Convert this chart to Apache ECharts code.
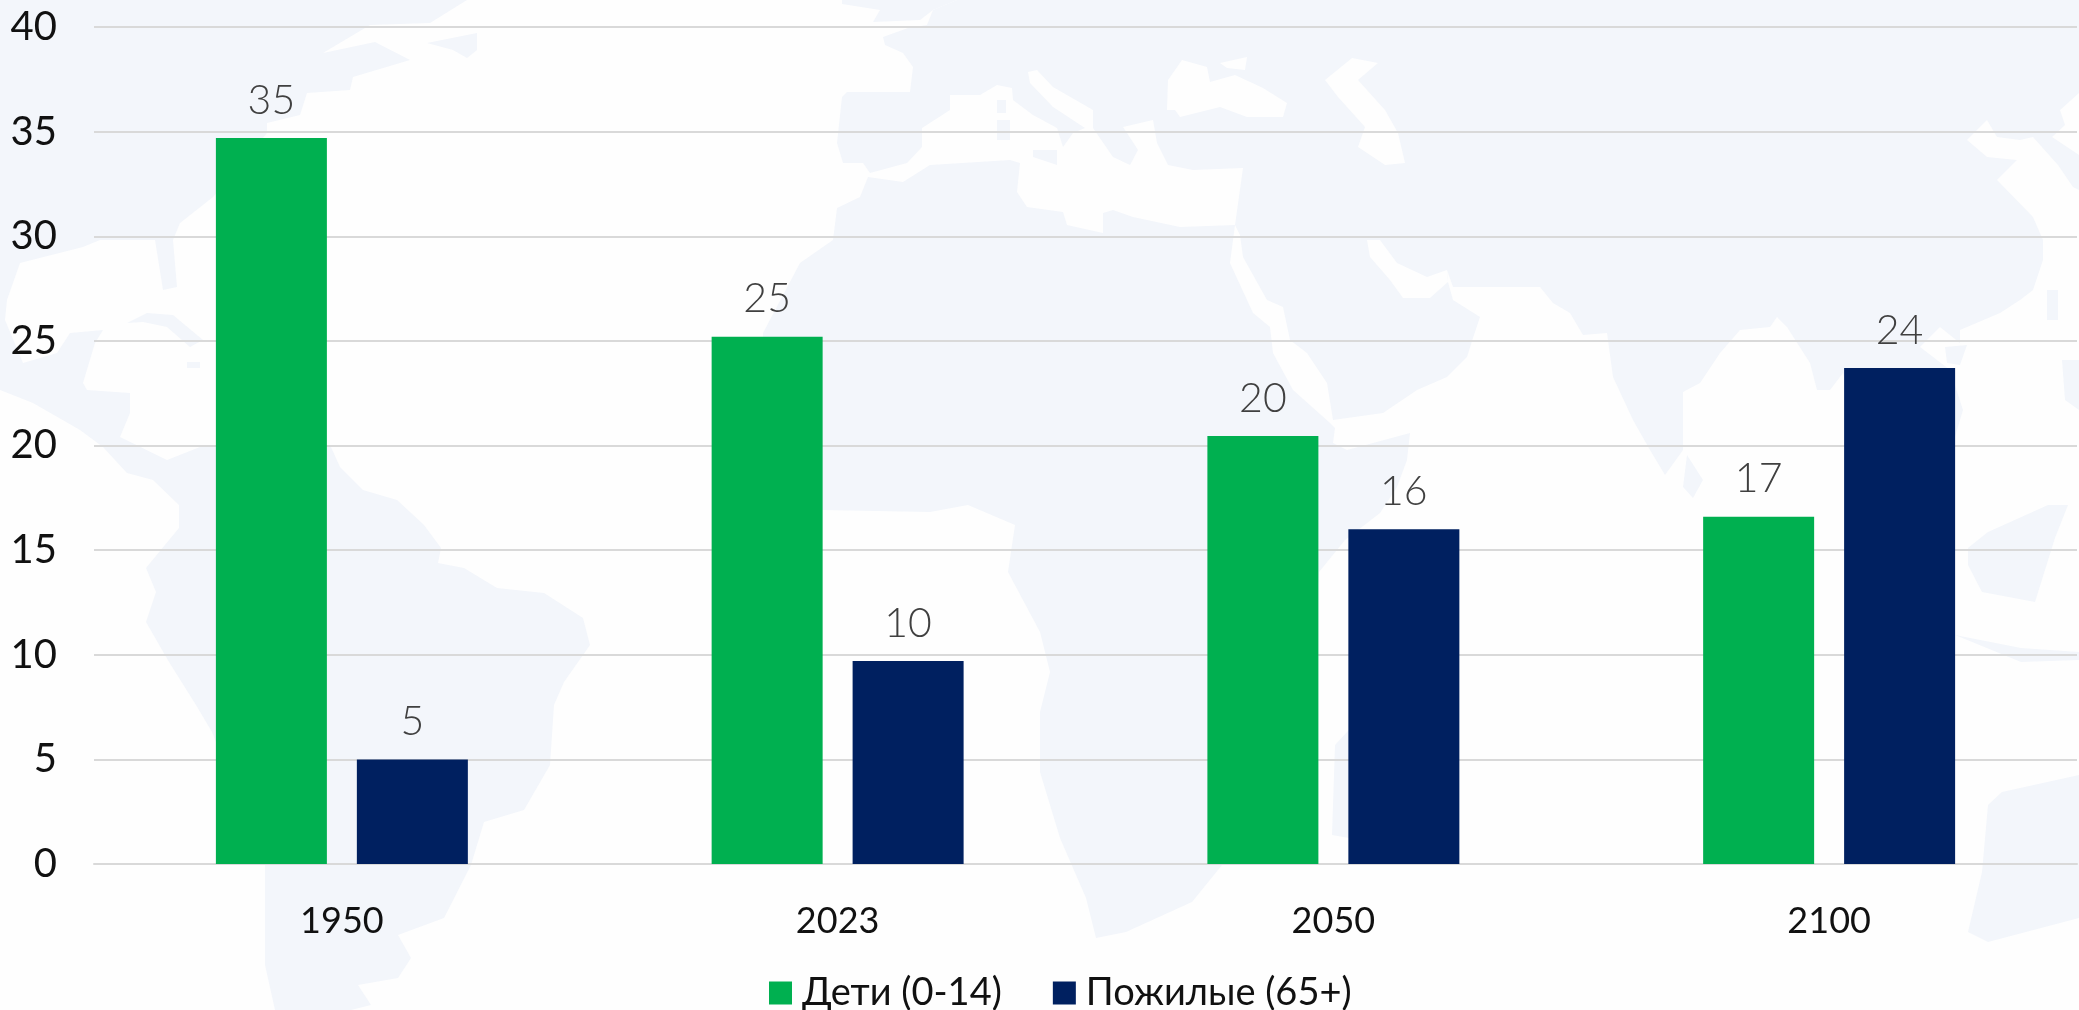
<!DOCTYPE html>
<html>
<head>
<meta charset="utf-8">
<style>html,body{margin:0;padding:0;background:#fefefe}#c{width:2079px;height:1010px}</style>
<script src="https://cdn.jsdelivr.net/npm/echarts@6/dist/echarts.min.js"></script>
</head>
<body>
<div id="c"></div>
<script>
var categories = ['1950', '2023', '2050', '2100'];
var childrenName = 'Дети (0-14)';
var elderlyName = 'Пожилые (65+)';
var children = [34.7, 25.2, 20.45, 16.6];
var elderly = [5, 9.7, 16, 23.7];

// Decorative backdrop only: a coarse world map behind the plot
var landColor = '#f3f6fb', seaColor = '#fefefe';
var americas = [[0,0],[467,0],[430,23],[370,25],[323,53],[375,42],[410,60],[353,77],[350,90],[307,93],[300,115],[267,123],[267,133],[213,197],[180,223],[173,240],[177,287],[163,290],[155,240],[100,240],[83,247],[20,263],[7,300],[5,320],[23,363],[57,353],[70,333],[103,330],[95,343],[83,383],[87,390],[130,393],[130,413],[120,437],[167,460],[200,447],[331,447],[340,467],[363,490],[397,500],[424,525],[441,548],[438,563],[464,568],[497,588],[544,593],[583,618],[590,645],[564,682],[554,705],[550,765],[524,810],[484,822],[471,865],[444,918],[398,935],[411,958],[398,978],[358,985],[371,1005],[351,1010],[275,1010],[265,965],[265,865],[212,732],[196,705],[169,662],[146,622],[156,592],[146,568],[179,528],[179,505],[153,480],[127,473],[103,447],[80,430],[33,403],[0,390]];
var newfoundland = [[427,43],[477,33],[477,50],[467,58],[453,50]];
var cuba = [[127,323],[147,313],[173,315],[203,340],[190,347],[167,327],[143,322]];
var hispaniola = [[187,362],[200,362],[200,368],[187,368]];
var eurasia = [[957,0],[2079,0],[2079,93],[2060,110],[2065,125],[2052,137],[2079,155],[2079,190],[2073,187],[2058,165],[2033,137],[2020,140],[1997,137],[1987,120],[1967,140],[1987,157],[2017,160],[1997,180],[2033,217],[2043,240],[2043,260],[2033,290],[2020,300],[2000,313],[1960,330],[1960,343],[1940,327],[1920,347],[1950,370],[1963,410],[1945,470],[1860,440],[1843,373],[1830,390],[1817,390],[1810,363],[1787,327],[1777,317],[1770,327],[1740,330],[1720,353],[1700,383],[1683,392],[1683,450],[1665,475],[1650,450],[1633,420],[1613,377],[1607,333],[1583,335],[1570,313],[1553,303],[1540,287],[1453,287],[1447,270],[1448,282],[1453,300],[1480,317],[1473,338],[1467,357],[1447,377],[1417,390],[1383,413],[1333,420],[1327,383],[1307,353],[1290,340],[1283,307],[1267,300],[1243,257],[1240,235],[1235,225],[1243,168],[1193,170],[1168,165],[1157,143],[1153,120],[1123,127],[1127,133],[1138,150],[1130,165],[1113,157],[1093,128],[1093,110],[1053,87],[1037,70],[1028,72],[1030,83],[1053,107],[1085,128],[1073,133],[1063,147],[1057,128],[1033,115],[1013,100],[1012,88],[997,85],[980,95],[950,95],[950,110],[922,128],[922,147],[907,163],[870,173],[863,163],[843,163],[837,143],[842,97],[847,92],[910,92],[913,67],[903,53],[885,45],[883,37],[908,28],[927,25],[933,10]];
var africa = [[800,263],[833,240],[837,208],[860,197],[868,177],[903,182],[930,165],[1010,160],[1020,163],[1017,192],[1027,207],[1063,212],[1067,225],[1103,233],[1103,213],[1113,210],[1133,217],[1180,227],[1235,225],[1230,263],[1253,313],[1270,327],[1273,353],[1293,390],[1330,423],[1335,428],[1333,443],[1347,450],[1410,433],[1407,460],[1397,487],[1380,513],[1345,540],[1319,572],[1310,700],[1290,770],[1222,865],[1192,902],[1126,932],[1096,938],[1086,898],[1060,838],[1040,772],[1040,712],[1050,672],[1040,632],[1008,572],[1015,525],[968,505],[930,512],[822,510],[763,440],[763,333]];
var britain = [[842,0],[957,0],[933,10],[920,20],[873,22],[880,10],[842,4]];
var sardinia = [[997,120],[1010,120],[1010,140],[997,140]];
var corsica = [[997,100],[1006,100],[1006,113],[997,113]];
var sicily = [[1033,150],[1057,150],[1057,165],[1033,157]];
var madagascar = [[1335,745],[1349,730],[1349,838],[1332,835]];
var sriLanka = [[1687,455],[1703,480],[1693,498],[1683,487]];
var hainan = [[1945,347],[1967,345],[1960,365],[1947,363]];
var taiwan = [[2047,290],[2058,290],[2058,320],[2047,320]];
var philippines = [[2062,360],[2079,360],[2079,410],[2065,400]];
var borneo = [[1968,548],[1988,532],[2048,505],[2068,505],[2055,538],[2035,602],[1982,592],[1968,565]];
var java = [[1955,635],[2021,648],[2079,652],[2079,660],[2021,662]];
var australia = [[2079,775],[2002,792],[1988,805],[1982,872],[1968,932],[1988,942],[2079,918]];
var blackSea = [[1167,110],[1168,80],[1182,60],[1207,67],[1210,82],[1235,75],[1263,88],[1287,103],[1283,117],[1247,117],[1220,107],[1180,117],[1175,110]];
var azov = [[1220,63],[1247,57],[1245,70],[1227,68]];
var persianGulf = [[1367,240],[1380,240],[1397,263],[1427,277],[1447,270],[1448,282],[1430,298],[1403,298],[1390,280],[1370,257]];
var caspian = [[1325,80],[1352,58],[1378,63],[1358,80],[1385,110],[1398,133],[1405,163],[1385,165],[1358,147],[1365,127],[1338,97]];

function shape(points, fill) {
  return { type: 'polygon', z: -10, silent: true, shape: { points: points }, style: { fill: fill } };
}
var backdrop = [americas, newfoundland, cuba, hispaniola, eurasia, africa, britain, sardinia, corsica, sicily, madagascar, sriLanka, hainan, taiwan, philippines, borneo, java, australia].map(function (p) { return shape(p, landColor); })
  .concat([blackSea, azov, caspian, persianGulf].map(function (p) { return shape(p, seaColor); }));

var fontFamily = 'Lato, "Noto Sans", sans-serif';
var dataLabel = {
  show: true, position: 'top', distance: 17, color: '#404040',
  fontFamily: fontFamily, fontSize: 41, fontWeight: 300,
  formatter: function (p) { return String(Math.round(p.value)); }
};

var chart = echarts.init(document.getElementById('c'), null, { renderer: 'canvas' });
chart.setOption({
  animation: false,
  backgroundColor: '#fefefe',
  graphic: backdrop,
  grid: { left: 94, right: 2, top: 27, bottom: 146, containLabel: false },
  legend: {
    left: 769, top: 974, itemWidth: 23, itemHeight: 23, itemGap: 51,
    icon: 'rect', padding: 0,
    textStyle: { fontFamily: fontFamily, fontSize: 38, fontWeight: 400, color: '#111', padding: [0, 0, 0, 5] },
    data: [childrenName, elderlyName]
  },
  xAxis: {
    type: 'category', data: categories,
    axisTick: { show: false },
    axisLine: { lineStyle: { color: '#d9d9d9', width: 2 } },
    axisLabel: { margin: 39, color: '#111', fontFamily: fontFamily, fontSize: 36, fontWeight: 400 }
  },
  yAxis: {
    type: 'value', min: 0, max: 40, interval: 5,
    axisLine: { show: false }, axisTick: { show: false },
    splitLine: { lineStyle: { color: '#d9d9d9', width: 2 } },
    axisLabel: { margin: 37, color: '#111', fontFamily: fontFamily, fontSize: 40, fontWeight: 400 }
  },
  series: [
    { name: childrenName, type: 'bar', data: children, barWidth: 111, barGap: '27%', itemStyle: { color: '#00b050' }, label: dataLabel },
    { name: elderlyName, type: 'bar', data: elderly, barWidth: 111, itemStyle: { color: '#002060' }, label: dataLabel }
  ]
});
</script>
</body>
</html>
